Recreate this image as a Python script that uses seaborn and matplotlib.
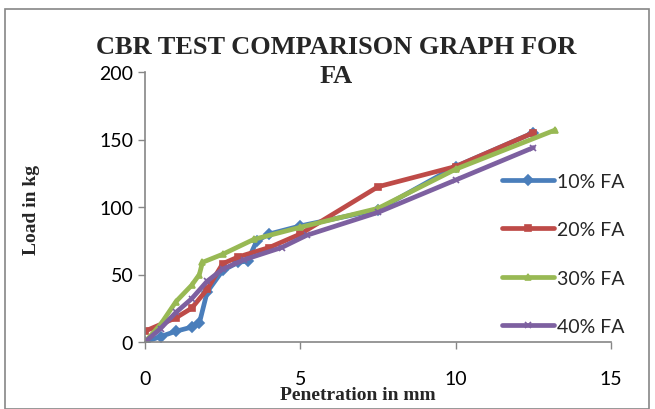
import matplotlib
matplotlib.use('Agg')
import matplotlib.pyplot as plt
import seaborn as sns
from matplotlib.patches import Rectangle

# penetration (mm) and load (kg)
fa10_x = [0, 0.5, 1.0, 1.5, 1.75, 2.0, 2.5, 3.0, 3.3, 3.6, 4.0, 5.0, 7.5, 10.0, 12.5]
fa10_y = [0, 4, 8, 11, 14, 37, 53, 59, 60, 75, 80, 86, 98, 130, 155]

fa20_x = [0, 1.0, 1.5, 2.0, 2.5, 3.0, 4.0, 5.0, 7.5, 10.0, 12.5]
fa20_y = [8, 18, 25, 39, 58, 63, 70, 80, 115, 130, 155]

fa30_x = [0, 0.5, 1.0, 1.5, 1.75, 1.85, 2.5, 3.5, 5.0, 7.5, 10.0, 13.2]
fa30_y = [0, 13, 30, 42, 50, 59, 65, 76, 85, 99, 128, 157]

fa40_x = [0, 0.5, 1.0, 1.5, 2.0, 2.5, 3.2, 4.4, 5.2, 7.5, 10.0, 12.5]
fa40_y = [0, 10, 22, 32, 45, 54, 61, 70, 79, 96, 120, 144]

series = [
    ('10% FA', fa10_x, fa10_y, '#4A7EBB', 'D'),
    ('20% FA', fa20_x, fa20_y, '#BE4B48', 's'),
    ('30% FA', fa30_x, fa30_y, '#98B954', '^'),
    ('40% FA', fa40_x, fa40_y, '#7D60A0', 'x'),
]

sns.set_theme(style='white')
plt.rcParams['font.family'] = ['Lato', 'DejaVu Sans']

fig = plt.figure(figsize=(6.55, 4.10), dpi=100)
ax = fig.add_axes([145 / 655, 1 - 343 / 410, (611 - 145) / 655, (343 - 73) / 410])

for label, xs, ys, color, marker in series:
    sns.lineplot(x=xs, y=ys, ax=ax, color=color, marker=marker, label=label,
                 linewidth=3.4, markersize=5, markeredgecolor=color,
                 markeredgewidth=1.2, solid_joinstyle='round', solid_capstyle='round')

ax.set_xlim(0, 15)
ax.set_ylim(0, 200)
ax.set_xticks([0, 5, 10, 15])
ax.set_yticks([0, 50, 100, 150, 200])
ax.tick_params(axis='both', labelsize=14, length=5, width=1, colors='#868686',
               labelcolor='black', direction='out', bottom=True, left=True)
ax.tick_params(axis='x', pad=15)
for side in ['top', 'right']:
    ax.spines[side].set_visible(False)
for side in ['left', 'bottom']:
    ax.spines[side].set_color('#868686')
    ax.spines[side].set_linewidth(1.2)
ax.set_xlabel('')
ax.set_ylabel('')

leg = ax.legend(loc='center left', bbox_to_anchor=(494 / 655, 1 - 255 / 410),
                bbox_transform=fig.transFigure, frameon=False, fontsize=14,
                handlelength=2.7, labelspacing=1.62, handletextpad=0.15,
                borderaxespad=0)

serif = ['Liberation Serif', 'DejaVu Serif']
fig.text(336 / 655, 1 - 48 / 410, 'CBR TEST COMPARISON GRAPH FOR', ha='center', va='center',
         fontsize=19, fontweight='bold', family=serif)
fig.text(336 / 655, 1 - 77 / 410, 'FA', ha='center', va='center',
         fontsize=19, fontweight='bold', family=serif)
fig.text(358 / 655, 1 - 396 / 410, 'Penetration in mm', ha='center', va='center',
         fontsize=14, fontweight='bold', family=serif)
fig.text(31 / 655, 1 - 210 / 410, 'Load in kg', ha='center', va='center', rotation=90,
         fontsize=14, fontweight='bold', family=serif)

fig.patches.append(Rectangle((5 / 655, 0), 644 / 655, 1 - 10 / 410, transform=fig.transFigure,
                             fill=False, edgecolor='#868686', linewidth=1.2))

fig.savefig('out.png', dpi=100)
